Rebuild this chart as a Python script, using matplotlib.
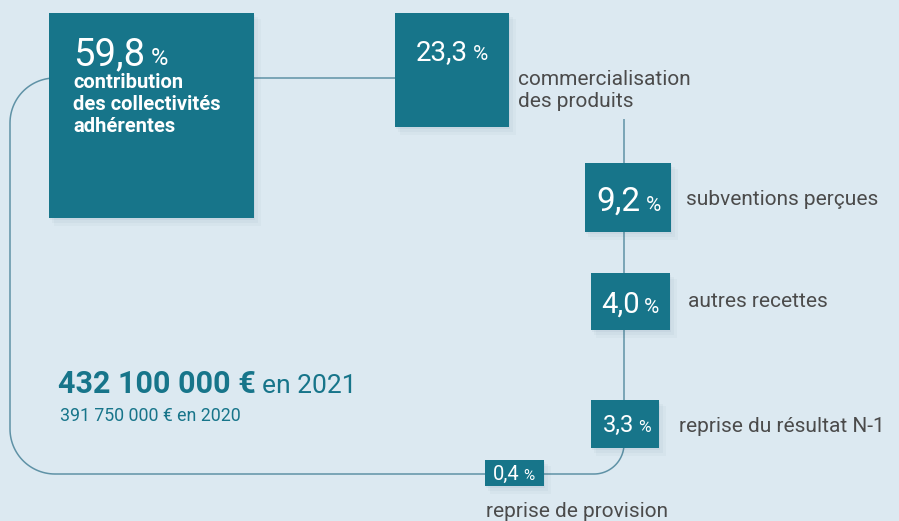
"""Recettes 2021: teal boxes per revenue share, linked by a thin loop."""

import matplotlib

matplotlib.use("Agg")
import matplotlib.pyplot as plt
from matplotlib.patches import Rectangle
import numpy as np

plt.rcParams["font.family"] = ["Roboto", "DejaVu Sans"]

# data
shares = ["59,8", "23,3", "9,2", "4,0", "3,3", "0,4"]
labels = [
    ["contribution", "des collectivités", "adhérentes"],
    ["commercialisation", "des produits"],
    ["subventions perçues"],
    ["autres recettes"],
    ["reprise du résultat N-1"],
    ["reprise de provision"],
]
total_2021 = "432 100 000 €"
total_2020 = "391 750 000 €"
year_2021 = "2021"
year_2020 = "2020"

# layout (pixels, y downwards): box x0, y0, w, h / number size / pct size
boxes = [
    (49, 13, 205, 205),
    (395, 13, 114, 114),
    (585, 163, 86, 69),
    (591, 273, 79, 57),
    (591, 400, 68, 48),
    (485, 460, 59, 26),
]
num_pos = [(73, 65), (416, 60), (596, 211), (601, 313), (603, 432), (493, 480)]
num_size = [27.5, 20, 24, 21, 17, 14.5]
pct_size = [17, 15, 15, 15, 12.5, 11]
label_pos = [(73, 88), (518, 85), (686, 205), (688, 307), (679, 432), (486, 517)]
line_step = 22

BG = "#dce9f1"
TEAL = "#17758a"
LINE = "#5f92a6"
GREY = "#4b4b4b"

W, H = 899, 521
fig = plt.figure(figsize=(W / 100, H / 100), dpi=100, facecolor=BG)
ax = fig.add_axes([0, 0, 1, 1])
ax.set_xlim(0, W)
ax.set_ylim(H, 0)
ax.axis("off")


def arc(cx, cy, r, a0, a1, n=30):
    t = np.radians(np.linspace(a0, a1, n))
    return cx + r * np.cos(t), cy + r * np.sin(t)


# connecting loop
xs, ys = [395], [78]
for (px, py) in [arc(55, 123, 45, 270, 180), arc(55, 429, 45, 180, 90), arc(594, 444, 30, 90, 0)]:
    xs += list(px)
    ys += list(py)
xs.append(624)
ys.append(119)
ax.plot(xs, ys, color=LINE, lw=1.1, zorder=1, solid_capstyle="butt")

renderer = fig.canvas.get_renderer()
inv = ax.transData.inverted()

for i, (x0, y0, w, h) in enumerate(boxes):
    # soft shadow
    for k, a in enumerate([0.05, 0.04, 0.03]):
        d = 2 + 2 * k
        ax.add_patch(Rectangle((x0 + d - 1, y0 + d), w + k, h + k, color="#2d5a70", alpha=a, lw=0, zorder=2))
    ax.add_patch(Rectangle((x0, y0), w, h, color=TEAL, lw=0, zorder=3))

    nx, ny = num_pos[i]
    t = ax.text(nx, ny, shares[i], color="white", fontsize=num_size[i], va="baseline", ha="left", zorder=4)
    bb = t.get_window_extent(renderer)
    x_end = inv.transform((bb.x1, bb.y0))[0]
    ax.text(x_end + num_size[i] * 0.22, ny, "%", color="white", fontsize=pct_size[i],
            va="baseline", ha="left", zorder=4)

    lx, ly = label_pos[i]
    for j, line in enumerate(labels[i]):
        if i == 0:
            ax.text(lx, ly + j * line_step, line, color="white", fontsize=14.5, fontweight="bold",
                    va="baseline", ha="left", zorder=4)
        else:
            ax.text(lx, ly + j * line_step, line, color=GREY, fontsize=15,
                    va="baseline", ha="left", zorder=4)

# totals
t = ax.text(58, 393, total_2021, color=TEAL, fontsize=22, fontweight="bold", va="baseline", ha="left")
bb = t.get_window_extent(renderer)
x_end = inv.transform((bb.x1, bb.y0))[0]
ax.text(x_end + 6, 393, f"en {year_2021}", color=TEAL, fontsize=19, va="baseline", ha="left")
ax.text(60, 421, f"{total_2020} en {year_2020}", color=TEAL, fontsize=12.8, va="baseline", ha="left")

fig.savefig("out.png", dpi=100, facecolor=BG)
